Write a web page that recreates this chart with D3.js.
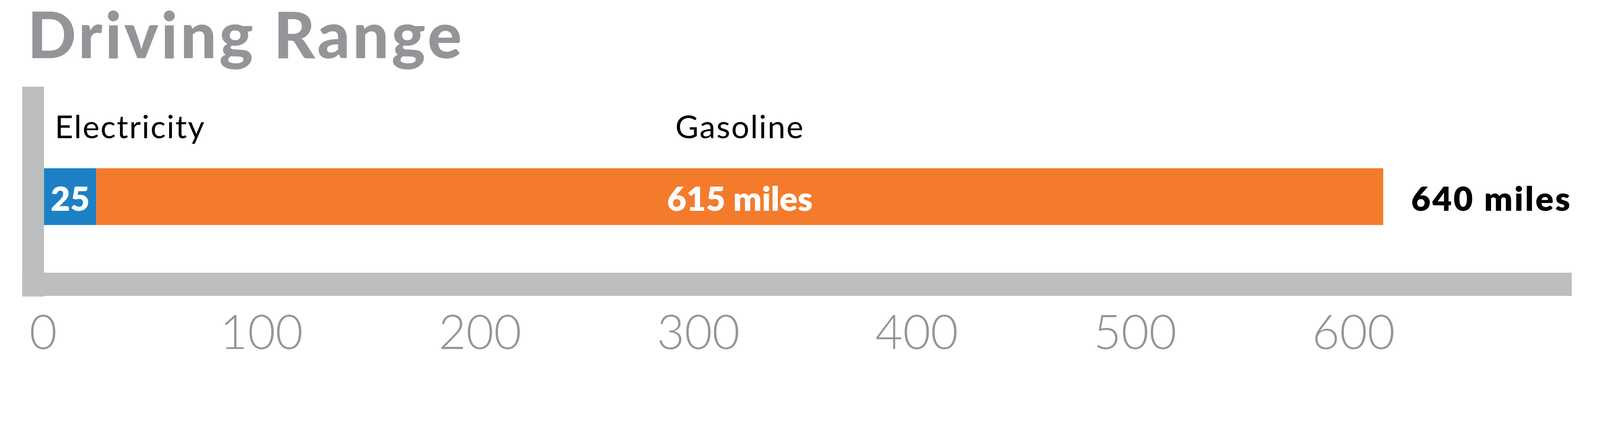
<!DOCTYPE html>
<html>
<head>
<meta charset="utf-8">
<script src="https://cdn.jsdelivr.net/npm/d3@7"></script>
<style>
  html, body { margin: 0; padding: 0; background: #fff; overflow: hidden; }
  .rangeChart svg { display: block; width: 100vw; height: 100vh; }
</style>
</head>
<body>
<div class="rangeChart"></div>
<script>
// Chart data
const fuelTypes = ["Electricity", "Gasoline"];
const rangeMiles = [25, 615];
const valueLabels = ["25", "615 miles"];
const totalLabel = "640 miles";
const tickValues = [0, 100, 200, 300, 400, 500, 600];

const width = 4761;
const height = 1122;
const fuelColors = ["#1d80c4", "#f47b2c"];
const axisGray = "#bcbec0";
const textGray = "#939598";
const fontStack = "Lato, 'Open Sans', sans-serif";

const svg = d3.select(".rangeChart")
    .append("svg")
    .attr("viewBox", `0 0 ${width} ${height}`)
    .attr("preserveAspectRatio", "xMinYMin meet");

// stack segments end to end
let running = 0;
const segments = fuelTypes.map((f, i) => {
    const seg = { fuel: f, value: rangeMiles[i], start: running, label: valueLabels[i] };
    running += rangeMiles[i];
    seg.end = running;
    return seg;
});
const total = d3.sum(rangeMiles);

// bar scale and axis scale (the bar runs a bit short of the axis in the original)
const x = d3.scaleLinear().domain([0, total]).range([131, 4116]);
const xAxisScale = d3.scaleLinear().domain([0, 700]).range([128, 4677]);
const y = d3.scaleBand().domain(["range"]).range([501, 670]);

// Title - a bit of letter spacing to reach the original's width
const title = svg.append("text")
    .attr("x", 82)
    .attr("y", 173)
    .style("font-family", fontStack)
    .style("font-weight", 900)
    .style("font-size", "190px")
    .style("fill", textGray)
    .text("Driving Range");
const titleWidth = title.node().getComputedTextLength();
const titleChars = "Driving Range".length;
title.style("letter-spacing", Math.max(0, (1292 - titleWidth) / (titleChars - 1)) + "px");

// Axis bars
svg.append("rect")
    .attr("x", 66)
    .attr("y", 258)
    .attr("width", 65)
    .attr("height", 625)
    .attr("fill", axisGray);

svg.append("rect")
    .attr("x", 66)
    .attr("y", 812)
    .attr("width", xAxisScale(700) - 66)
    .attr("height", 69)
    .attr("fill", axisGray);

// Stacked bar
svg.append("g")
    .selectAll("rect")
    .data(segments)
    .join("rect")
    .attr("x", d => x(d.start))
    .attr("y", y("range"))
    .attr("width", d => x(d.end) - x(d.start))
    .attr("height", y.bandwidth())
    .attr("fill", (d, i) => fuelColors[i]);

// Fuel names above the bar
svg.append("g")
    .selectAll("text")
    .data(segments)
    .join("text")
    .attr("x", (d, i) => i === 0 ? x(d.start) + 32 : (x(d.start) + x(d.end)) / 2)
    .attr("y", 411)
    .attr("text-anchor", (d, i) => i === 0 ? "start" : "middle")
    .style("font-family", fontStack)
    .style("font-size", "95px")
    .style("letter-spacing", "3px")
    .style("fill", "#000")
    .text(d => d.fuel);

// Values inside the bar
svg.append("g")
    .selectAll("text")
    .data(segments)
    .join("text")
    .attr("x", d => (x(d.start) + x(d.end)) / 2)
    .attr("y", 628)
    .attr("text-anchor", "middle")
    .style("font-family", fontStack)
    .style("font-weight", 800)
    .style("font-size", "100px")
    .style("fill", "#fff")
    .text(d => d.label);

// Total at the end of the bar
svg.append("text")
    .attr("x", x(total) + 83)
    .attr("y", 628)
    .style("font-family", fontStack)
    .style("font-weight", 800)
    .style("font-size", "100px")
    .style("letter-spacing", "5px")
    .style("fill", "#000")
    .text(totalLabel);

// X axis tick labels
const axis = svg.append("g")
    .call(d3.axisBottom(xAxisScale).tickValues(tickValues).tickSize(0).tickFormat(d3.format("d")));
axis.select(".domain").remove();
axis.selectAll("text")
    .attr("y", 1039)
    .attr("dy", 0)
    .style("font-family", fontStack)
    .style("font-weight", 300)
    .style("font-size", "142px")
    .style("fill", textGray);
</script>
</body>
</html>
